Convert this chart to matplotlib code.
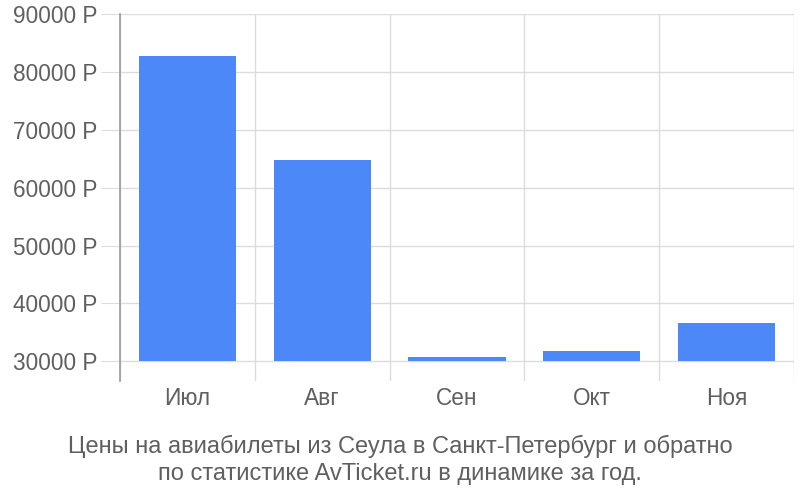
import matplotlib.pyplot as plt

months = ['Июл', 'Авг', 'Сен', 'Окт', 'Ноя']
prices = [82750, 64700, 30800, 31750, 36700]
yticks = [30000, 40000, 50000, 60000, 70000, 80000, 90000]
caption = ('Цены на авиабилеты из Сеула в Санкт-Петербург и обратно\n'
           'по статистике AvTicket.ru в динамике за год.')

plt.rcParams['font.family'] = ['Liberation Sans', 'DejaVu Sans']

fig = plt.figure(figsize=(8, 5), dpi=100)
ax = fig.add_axes([0.15, 0.238, 0.8425, 0.734])

base = 30000
x = range(len(months))
ax.bar(x, [p - base for p in prices], bottom=base, width=0.72,
       color='#4d88f9', zorder=3)

ax.set_xlim(-0.5, len(months) - 0.5)
ax.set_ylim(26600, 90000)
ax.set_yticks(yticks)
ax.set_yticklabels([f'{v} Р' for v in yticks])
ax.set_xticks([i + 0.5 for i in range(-1, len(months))], minor=False)
ax.set_xticklabels([])
ax.set_xticks(list(x), minor=True)
ax.set_xticklabels(months, minor=True)

ax.grid(True, axis='both', which='major', color='#dcdcdc', lw=1, zorder=0)
ax.tick_params(axis='y', which='major', length=14, color='#dcdcdc',
               labelsize=16.3, labelcolor='#5f5f5f', pad=2)
ax.tick_params(axis='x', which='major', length=0)
ax.tick_params(axis='x', which='minor', length=0, labelsize=16.3,
               labelcolor='#5f5f5f', pad=4)

for side in ['top', 'right', 'bottom']:
    ax.spines[side].set_visible(False)
ax.spines['left'].set_color('#9a9a9a')
ax.spines['left'].set_linewidth(1.2)

fig.text(0.5, 0.081, caption, ha='center', va='center', fontsize=17,
         color='#5f5f5f', linespacing=1.3)

fig.savefig('out.png', dpi=100)
